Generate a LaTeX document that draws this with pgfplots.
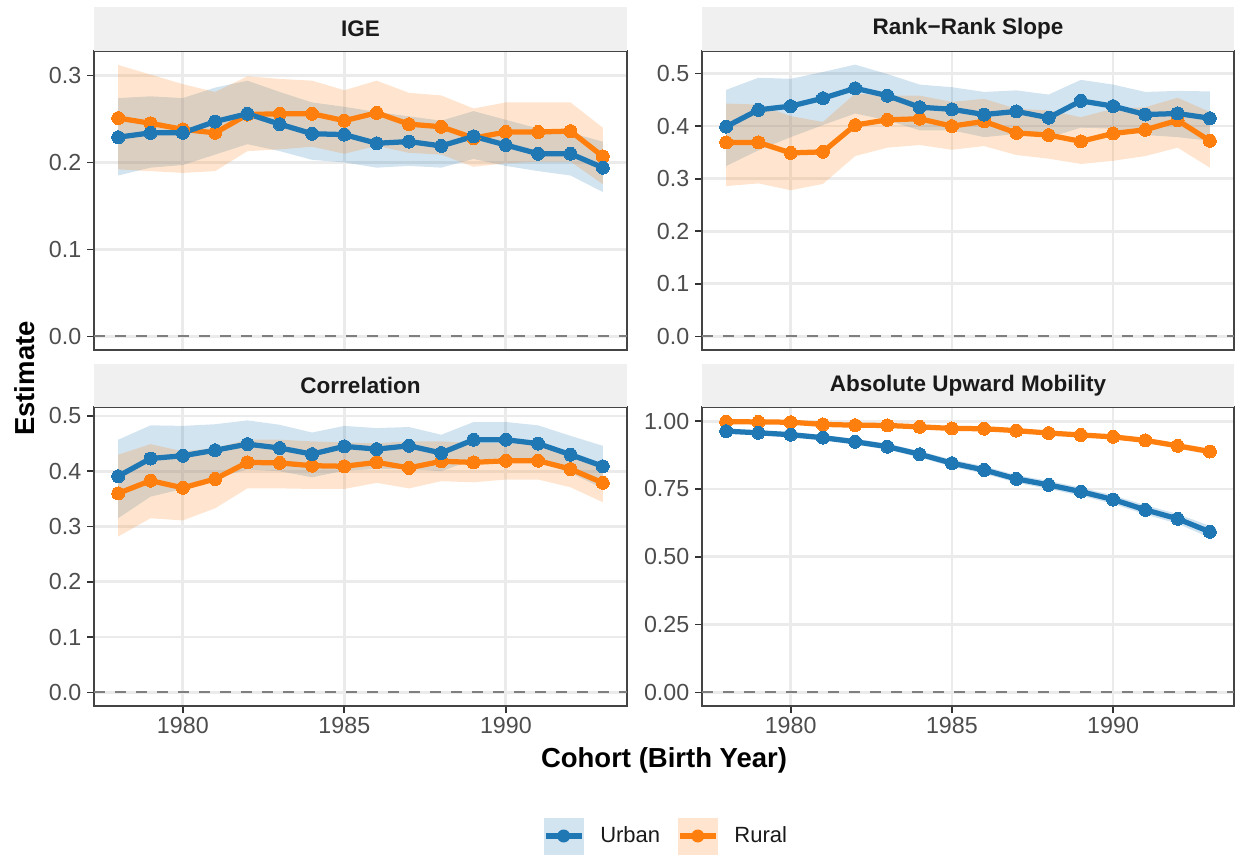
\documentclass[border=0pt]{standalone}
\usepackage{fontspec}
\setmainfont{Liberation Sans}
\usepackage{pgfplots}
\usepackage{pgfplotstable}
\pgfplotsset{compat=1.18}
\usepgfplotslibrary{fillbetween}

\definecolor{urban}{HTML}{1F77B4}
\definecolor{rural}{HTML}{FF7F0E}
\definecolor{tickgray}{HTML}{4D4D4D}
\definecolor{tickdark}{HTML}{333333}
\definecolor{bordergray}{HTML}{444444}
\definecolor{gridgray}{HTML}{EBEBEB}
\definecolor{stripgray}{HTML}{F0F0F0}
\definecolor{zerogray}{HTML}{7F7F7F}
\definecolor{stripfont}{HTML}{1A1A1A}

% columns: estimate and interval for urban (u) and rural (r) cohorts
\pgfplotstableread{
year u ulo uhi r rlo rhi
1978 0.229 0.185 0.274 0.251 0.192 0.312
1979 0.234 0.194 0.276 0.245 0.190 0.301
1980 0.234 0.197 0.274 0.238 0.188 0.290
1981 0.247 0.209 0.286 0.234 0.190 0.281
1982 0.256 0.221 0.294 0.255 0.213 0.299
1983 0.244 0.213 0.281 0.256 0.215 0.296
1984 0.233 0.203 0.269 0.256 0.218 0.294
1985 0.232 0.200 0.264 0.248 0.210 0.283
1986 0.222 0.194 0.258 0.257 0.219 0.294
1987 0.224 0.196 0.253 0.244 0.211 0.280
1988 0.219 0.194 0.248 0.241 0.209 0.277
1989 0.230 0.204 0.259 0.228 0.195 0.262
1990 0.220 0.196 0.249 0.235 0.199 0.269
1991 0.210 0.190 0.239 0.235 0.201 0.269
1992 0.210 0.185 0.234 0.236 0.201 0.269
1993 0.194 0.166 0.224 0.207 0.175 0.240
}\igetab

\pgfplotstableread{
year u ulo uhi r rlo rhi
1978 0.399 0.324 0.469 0.369 0.286 0.443
1979 0.431 0.354 0.492 0.369 0.291 0.441
1980 0.438 0.379 0.490 0.349 0.278 0.419
1981 0.453 0.402 0.503 0.351 0.290 0.408
1982 0.472 0.424 0.517 0.402 0.343 0.462
1983 0.458 0.411 0.499 0.412 0.359 0.458
1984 0.436 0.392 0.479 0.414 0.364 0.458
1985 0.432 0.392 0.474 0.400 0.355 0.446
1986 0.422 0.379 0.465 0.409 0.362 0.452
1987 0.428 0.385 0.468 0.387 0.345 0.433
1988 0.416 0.378 0.460 0.383 0.338 0.430
1989 0.448 0.397 0.488 0.371 0.328 0.417
1990 0.438 0.395 0.479 0.386 0.334 0.433
1991 0.422 0.383 0.465 0.393 0.343 0.436
1992 0.424 0.379 0.467 0.411 0.359 0.454
1993 0.415 0.372 0.466 0.372 0.321 0.427
}\rrtab

\pgfplotstableread{
year u ulo uhi r rlo rhi
1978 0.391 0.315 0.457 0.360 0.282 0.430
1979 0.423 0.354 0.483 0.383 0.315 0.449
1980 0.428 0.368 0.482 0.370 0.311 0.436
1981 0.438 0.388 0.485 0.386 0.333 0.442
1982 0.449 0.403 0.492 0.416 0.369 0.457
1983 0.442 0.400 0.484 0.415 0.369 0.457
1984 0.431 0.389 0.470 0.410 0.368 0.454
1985 0.445 0.401 0.482 0.409 0.368 0.452
1986 0.440 0.404 0.478 0.416 0.379 0.451
1987 0.446 0.404 0.480 0.406 0.369 0.454
1988 0.433 0.400 0.466 0.418 0.382 0.454
1989 0.457 0.421 0.489 0.416 0.380 0.451
1990 0.457 0.424 0.489 0.419 0.385 0.451
1991 0.450 0.418 0.483 0.419 0.385 0.448
1992 0.430 0.397 0.464 0.404 0.371 0.433
1993 0.409 0.369 0.446 0.379 0.344 0.409
}\cortab

\pgfplotstableread{
year u ulo uhi r rlo rhi
1978 0.963 0.955 0.972 0.998 0.994 1.002
1979 0.957 0.948 0.966 0.997 0.993 1.001
1980 0.950 0.940 0.960 0.996 0.992 1.000
1981 0.939 0.929 0.949 0.988 0.983 0.993
1982 0.924 0.913 0.935 0.985 0.980 0.990
1983 0.906 0.895 0.917 0.984 0.979 0.989
1984 0.878 0.866 0.890 0.979 0.974 0.984
1985 0.845 0.832 0.858 0.973 0.967 0.979
1986 0.820 0.806 0.834 0.972 0.966 0.978
1987 0.787 0.773 0.801 0.965 0.959 0.971
1988 0.765 0.750 0.780 0.956 0.949 0.963
1989 0.740 0.725 0.755 0.949 0.942 0.956
1990 0.711 0.695 0.727 0.942 0.934 0.950
1991 0.673 0.656 0.690 0.929 0.920 0.938
1992 0.640 0.622 0.658 0.909 0.899 0.919
1993 0.592 0.570 0.614 0.888 0.876 0.900
}\aumtab

\pgfplotsset{
  panel/.style={
    scale only axis, anchor=south west, height=119.6pt,
    xmin=1977.25, xmax=1993.75,
    xtick={1980,1985,1990},
    axis line style={draw=bordergray, line width=0.7pt},
    tick align=outside, tick pos=left,
    major tick length=2.8pt,
    tick style={draw=tickdark, line width=0.7pt},
    grid=major,
    major grid style={draw=gridgray, line width=1.1pt},
    ticklabel style={font=\fontsize{9.3}{11}\selectfont, text=tickgray},
    yticklabel style={inner sep=2.1pt},
    xticklabel style={inner sep=1.5pt},
    /pgf/number format/assume math mode=true,
    x tick label style={/pgf/number format/.cd, 1000 sep={}, fixed, precision=0},
  },
  toprow/.style={xmajorticks=false},
  onedec/.style={y tick label style={/pgf/number format/.cd, fixed, fixed zerofill, precision=1}},
  twodec/.style={y tick label style={/pgf/number format/.cd, fixed, fixed zerofill, precision=2}},
  zeroline/.style={draw=zerogray, line width=0.8pt, dash pattern=on 4.2pt off 4.2pt},
  urbanline/.style={draw=urban, line width=2.1pt, mark=*, mark size=2.6pt,
    mark options={fill=urban, draw=urban, line width=0pt}},
  ruralline/.style={draw=rural, line width=2.1pt, mark=*, mark size=2.6pt,
    mark options={fill=rural, draw=rural, line width=0pt}},
}

% reference line, intervals and estimates of one panel
\newcommand{\panelplots}[1]{%
  \addplot[zeroline, forget plot] coordinates {(1977.25,0) (1993.75,0)};
  \addplot[draw=none, name path=uhi, forget plot] table[x=year, y=uhi]{#1};
  \addplot[draw=none, name path=ulo, forget plot] table[x=year, y=ulo]{#1};
  \addplot[fill=urban, fill opacity=0.2, draw=none, forget plot] fill between[of=uhi and ulo];
  \addplot[draw=none, name path=rhi, forget plot] table[x=year, y=rhi]{#1};
  \addplot[draw=none, name path=rlo, forget plot] table[x=year, y=rlo]{#1};
  \addplot[fill=rural, fill opacity=0.2, draw=none, forget plot] fill between[of=rhi and rlo];
  \addplot[ruralline, forget plot] table[x=year, y=r]{#1};
  \addplot[urbanline, forget plot] table[x=year, y=u]{#1};
}

\newcommand{\stripfont}{\bfseries\fontsize{9}{11}\selectfont}

\begin{document}
\begin{tikzpicture}
% page frame
\path (0,0) rectangle (495.2pt,341.6pt);

% facet strips
\fill[stripgray] (37.6pt,321.2pt) rectangle (250.8pt,338.8pt);
\fill[stripgray] (280.8pt,321.2pt) rectangle (493.6pt,338.8pt);
\fill[stripgray] (37.6pt,178.8pt) rectangle (250.8pt,196pt);
\fill[stripgray] (280.8pt,178.8pt) rectangle (493.6pt,196pt);
\node[font=\stripfont, text=stripfont] at (144.2pt,330pt) {IGE};
\node[font=\stripfont, text=stripfont] at (387.2pt,330pt) {Rank−Rank Slope};
\node[font=\stripfont, text=stripfont] at (144.2pt,187.4pt) {Correlation};
\node[font=\stripfont, text=stripfont] at (387.2pt,187.4pt) {Absolute Upward Mobility};

% IGE
\begin{axis}[panel, toprow, onedec, at={(37.6pt,201.6pt)}, width=213.2pt,
  ymin=-0.0156, ymax=0.3281, ytick={0,0.1,0.2,0.3}]
\panelplots{\igetab}
\end{axis}

% rank-rank slope
\begin{axis}[panel, toprow, onedec, at={(280.8pt,201.6pt)}, width=212.8pt,
  ymin=-0.0259, ymax=0.5429, ytick={0,0.1,0.2,0.3,0.4,0.5}]
\panelplots{\rrtab}
\end{axis}

% correlation
\begin{axis}[panel, onedec, at={(37.6pt,59.2pt)}, width=213.2pt,
  ymin=-0.0246, ymax=0.5162, ytick={0,0.1,0.2,0.3,0.4,0.5}]
\panelplots{\cortab}
\end{axis}

% absolute upward mobility, with the legend
\begin{axis}[panel, twodec, at={(280.8pt,59.2pt)}, width=212.8pt,
  ymin=-0.0501, ymax=1.0521, ytick={0,0.25,0.5,0.75,1},
  legend columns=2,
  legend style={at={(-0.0695,-0.4348)}, anchor=center, draw=none, fill=none,
    font=\fontsize{8.8}{10}\selectfont, text=stripfont,
    /tikz/every odd column/.append style={column sep=6.4pt},
    /tikz/every even column/.append style={column sep=6.8pt},
    nodes={inner sep=0pt}}]
\panelplots{\aumtab}
\addlegendimage{legend image code/.code={
  \path[fill=urban, fill opacity=0.2, draw=none] (0pt,-7.4pt) rectangle (16pt,7.4pt);
  \path[draw=urban, line width=2.1pt] (0.8pt,0pt) -- (15.2pt,0pt);
  \path[fill=urban, draw=none] (8pt,0pt) circle (2.6pt);}}
\addlegendentry{Urban}
\addlegendimage{legend image code/.code={
  \path[fill=rural, fill opacity=0.2, draw=none] (0pt,-7.4pt) rectangle (16pt,7.4pt);
  \path[draw=rural, line width=2.1pt] (0.8pt,0pt) -- (15.2pt,0pt);
  \path[fill=rural, draw=none] (8pt,0pt) circle (2.6pt);}}
\addlegendentry{Rural}
\end{axis}

% shared axis titles
\node[font=\bfseries\fontsize{11}{13}\selectfont, rotate=90] at (10pt,190.2pt) {Estimate};
\node[font=\bfseries\fontsize{11}{13}\selectfont] at (265.6pt,37.6pt) {Cohort (Birth Year)};
\end{tikzpicture}
\end{document}
